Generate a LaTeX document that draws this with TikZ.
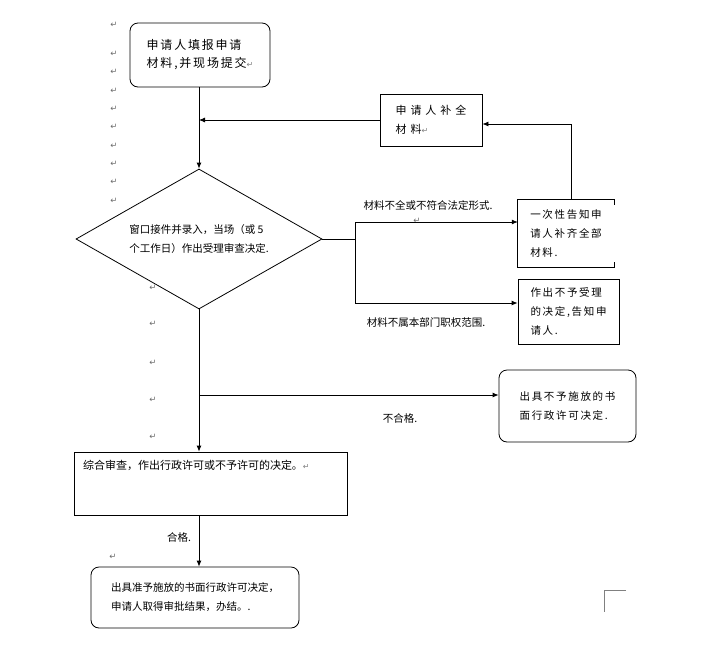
\documentclass[tikz,border=0pt]{standalone}
\usepackage{fontspec}
\setmainfont{Noto Sans CJK SC}
\newfontfamily\symfont{DejaVu Sans}
\newfontfamily\cjkwide[LetterSpace=15]{Noto Sans CJK SC}
\newfontfamily\cjkwider[LetterSpace=36]{Noto Sans CJK SC}
\newfontfamily\cjkspaced[LetterSpace=16]{Noto Sans CJK SC}
\usetikzlibrary{arrows.meta,positioning,shapes.geometric}
\newcommand{\retmark}{{\color{gray}\symfont\fontsize{8}{8}\selectfont ↵}}

\begin{document}
\begin{tikzpicture}[x=1pt, y=-1pt,
  every node/.style={font=\fontsize{10.5}{19}\selectfont},
  box/.style={draw, line width=0.8pt, inner sep=0pt, align=left},
  rbox/.style={box, rounded corners=8pt},
  decision/.style={draw, diamond, aspect=1.76, line width=0.8pt, inner sep=0pt, align=left, minimum width=246pt, minimum height=140pt},
  lbl/.style={inner sep=0pt, font=\fontsize{10.5}{12}\selectfont},
  pmark/.style={inner sep=0pt, text=gray!85!black, font=\symfont\fontsize{8.5}{9}\selectfont},
  arrow/.style={-{Latex[length=6pt,width=5pt]}, line width=0.8pt}
]
\useasboundingbox (0,0) rectangle (710,662);

\node[rbox, minimum width=140pt, minimum height=64pt, font=\cjkwide\fontsize{12}{18}\selectfont] (box1) at (200,55) {申请人填报申请\\材料,并现场提交\retmark};
\node[box, minimum width=102pt, minimum height=52pt, font=\cjkwider\fontsize{11}{19}\selectfont] (fill) at (431,120) {申请人补全\\材料\retmark};
\node[decision] (diamond) at (199,239) {窗口接件并录入，当场（或 5\\个工作日）作出受理审查决定.};
\node[inner sep=0pt, align=left, minimum width=96pt, minimum height=67pt, font=\cjkspaced\fontsize{10.5}{19}\selectfont] (notify) at (566,233.5) {一次性告知申\\请人补齐全部\\材料.};
\node[box, minimum width=101pt, minimum height=65pt, font=\cjkspaced\fontsize{10.5}{19}\selectfont] (reject) at (568.5,311.5) {作出不予受理\\的决定,告知申\\请人.};
\node[rbox, minimum width=137pt, minimum height=72pt, font=\cjkspaced\fontsize{10.5}{19}\selectfont] (deny) at (567.5,406) {出具不予施放的书\\面行政许可决定.};
\node[box, minimum width=273pt, minimum height=63pt, text width=255pt, text depth=38pt, font=\fontsize{11}{19}\selectfont] (review) at (210.5,483.5) {综合审查，作出行政许可或不予许可的决定。\retmark};
\node[rbox, minimum width=208pt, minimum height=61pt] (final) at (195,597.5) {出具准予施放的书面行政许可决定，\\申请人取得审批结果，办结。.};

\draw[line width=0.8pt] ([yshift=-5pt]notify.north east) -- (notify.north east) -- (notify.north west) -- (notify.south west) -- (notify.south east) -- ++(0,-5);

\node[lbl] (lblA) at (428,205) {材料不全或不符合法定形式.};
\node[lbl] (lblB) at (426,323) {材料不属本部门职权范围.};
\node[lbl] (lblC) at (400,418) {不合格.};
\node[lbl] (lblD) at (179,537) {合格.};

\draw[arrow] (box1.south -| diamond.north) -- (diamond.north);
\draw[arrow] (fill.west) -- (fill.west -| diamond.north);
\draw[arrow] ([xshift=5pt]notify.north) |- ([yshift=-4pt]fill.east);
\draw[line width=0.8pt] (diamond.east) -- ++(33,0) coordinate (split);
\draw[arrow] (split) |- ([yshift=11.5pt]notify.west);
\draw[arrow] (split) |- ([yshift=8.5pt]reject.west);
\draw[arrow] (diamond.south) -- (diamond.south |- review.north);
\path ([yshift=11pt]deny.west) coordinate (denyin);
\coordinate (branch) at (denyin -| diamond.south);
\draw[arrow] (branch) -- (denyin);
\draw[arrow] (review.south -| diamond.south) -- (final.north -| diamond.south);

\foreach \y [count=\i] in {25,54,72,91,109,127,146,164,182,201}
  \node[pmark] (pa\i) at (114,\y) {↵};
\foreach \y [count=\i] in {288,324,363,400,437}
  \node[pmark] (pb\i) at (153,\y) {↵};
\node[pmark] (pc) at (113,557) {↵};
\node[pmark] (pd) at (417,221) {↵};

\draw[gray, line width=1pt] (626,590) -- (604,590) -- (604,612);
\end{tikzpicture}
\end{document}
